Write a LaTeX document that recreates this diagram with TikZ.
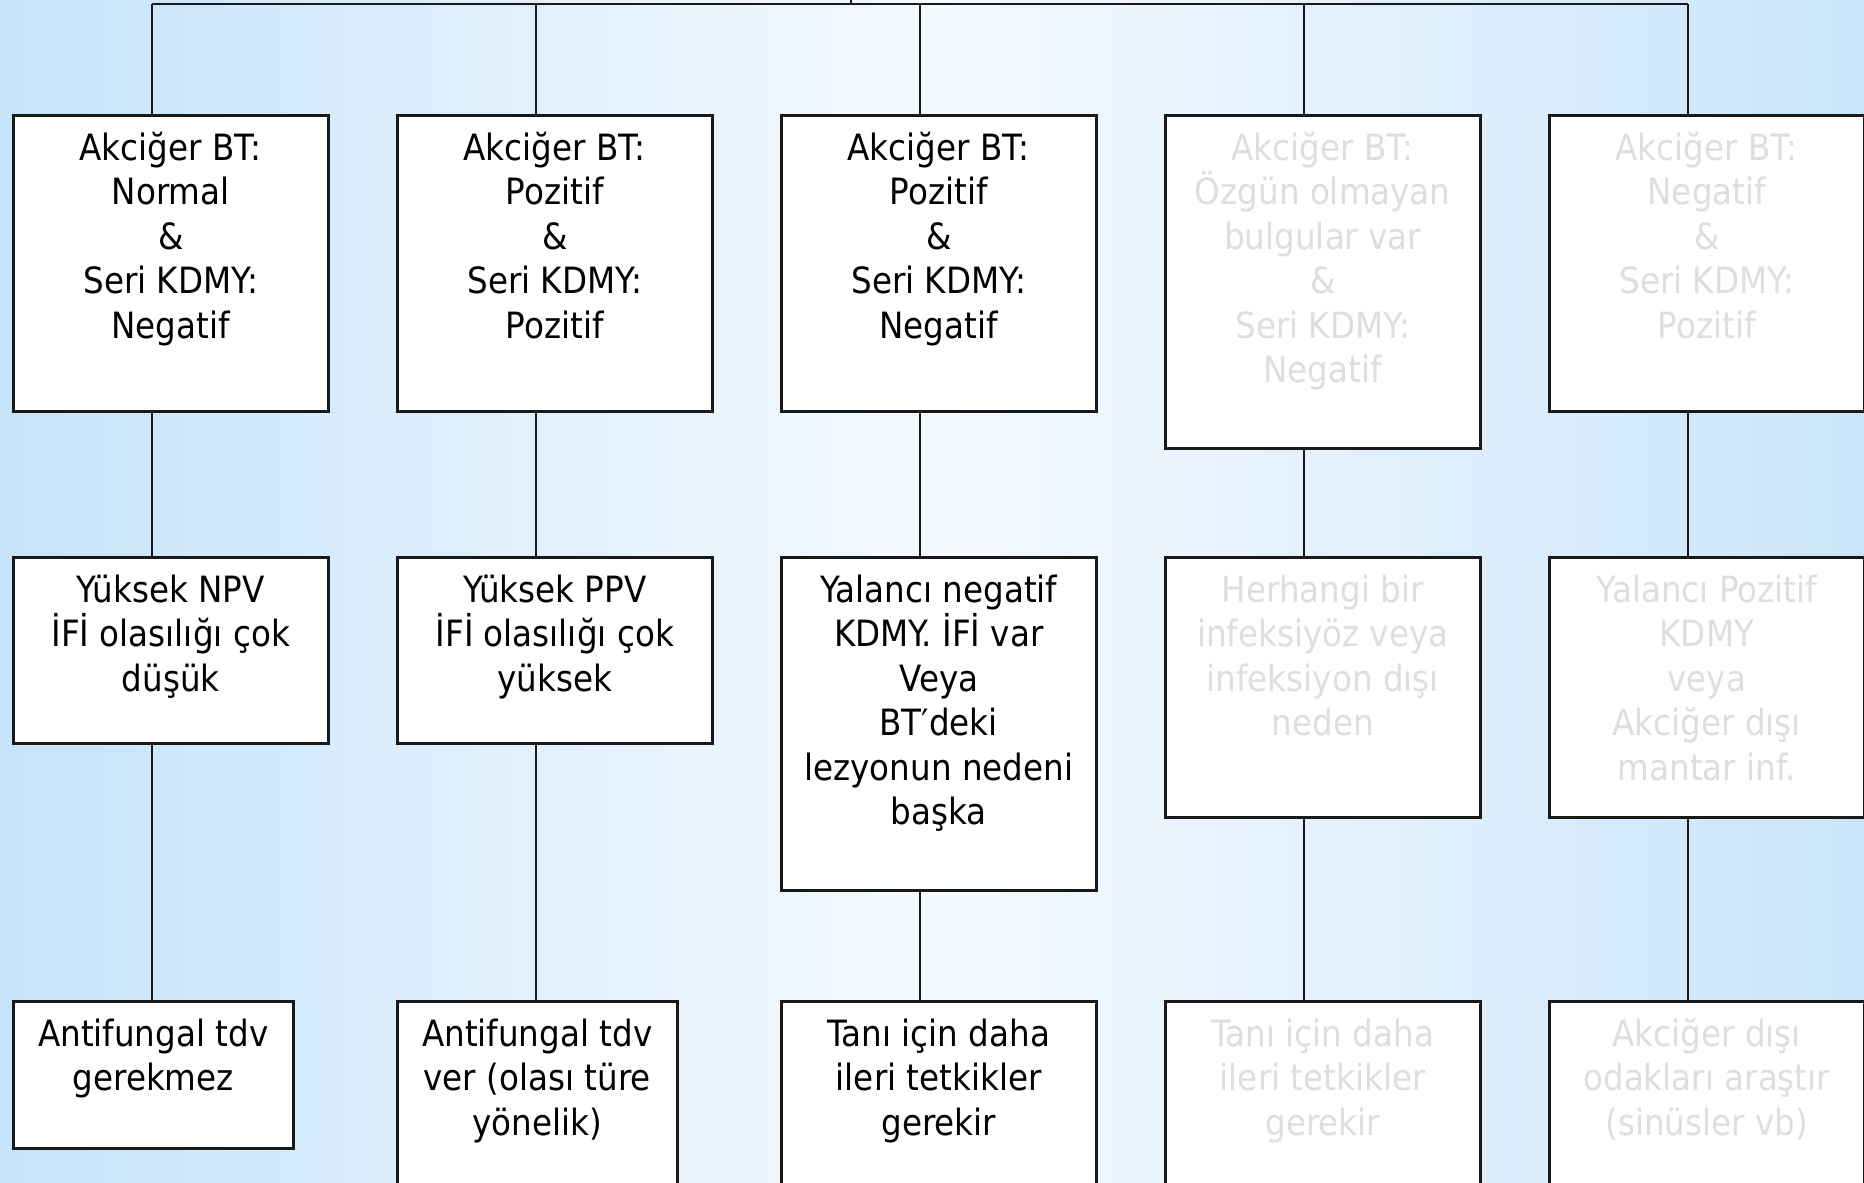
\documentclass[tikz,border=0pt]{standalone}
\usepackage{fontspec}
\setmainfont{DejaVu Sans}[FakeStretch=0.9]
\usetikzlibrary{calc}

\definecolor{bgleft}{RGB}{198,227,249}
\definecolor{bgmid}{RGB}{246,250,255}
\definecolor{bgright}{RGB}{202,229,250}
\definecolor{linec}{RGB}{25,25,25}
\definecolor{fadetxt}{RGB}{222,222,222}

% box text: height, width, lines
\newcommand{\boxtxt}[3]{\parbox[t][#1][t]{#2}{\centering\fontsize{10.3pt}{12.66pt}\selectfont\rule{0pt}{4.5mm}#3}}

\begin{document}
\begin{tikzpicture}[x=0.1mm,y=-0.1mm,
    kutu/.style={draw=linec,line width=0.25mm,fill=white,inner sep=0pt,anchor=north west},
    soluk/.style={kutu,text=fadetxt},
    hat/.style={draw=linec,line width=0.2mm}]
\useasboundingbox (0,0) rectangle (1864,1182);
\clip (0,0) rectangle (1864,1182);
\shade[left color=bgleft,right color=bgright,middle color=bgmid] (0,0) rectangle (1864,1182);

% first row
\node[kutu] (t1) at (12,114) {\boxtxt{29.6mm}{31.5mm}{Akciğer BT:\\Normal\\\&\\Seri KDMY:\\Negatif}};
\node[kutu] (t2) at (396,114) {\boxtxt{29.6mm}{31.5mm}{Akciğer BT:\\Pozitif\\\&\\Seri KDMY:\\Pozitif}};
\node[kutu] (t3) at (780,114) {\boxtxt{29.6mm}{31.5mm}{Akciğer BT:\\Pozitif\\\&\\Seri KDMY:\\Negatif}};
\node[soluk] (t4) at (1164,114) {\boxtxt{33.3mm}{31.5mm}{Akciğer BT:\\Özgün olmayan\\bulgular var\\\&\\Seri KDMY:\\Negatif}};
\node[soluk] (t5) at (1548,114) {\boxtxt{29.6mm}{31.5mm}{Akciğer BT:\\Negatif\\\&\\Seri KDMY:\\Pozitif}};

% second row
\node[kutu] (m1) at (12,556) {\boxtxt{18.6mm}{31.5mm}{Yüksek NPV\\İFİ olasılığı çok\\düşük}};
\node[kutu] (m2) at (396,556) {\boxtxt{18.6mm}{31.5mm}{Yüksek PPV\\İFİ olasılığı çok\\yüksek}};
\node[kutu] (m3) at (780,556) {\boxtxt{33.3mm}{31.5mm}{Yalancı negatif\\KDMY. İFİ var\\Veya\\BT′deki\\lezyonun nedeni\\başka}};
\node[soluk] (m4) at (1164,556) {\boxtxt{26mm}{31.5mm}{Herhangi bir\\infeksiyöz veya\\infeksiyon dışı\\neden}};
\node[soluk] (m5) at (1548,556) {\boxtxt{26mm}{31.5mm}{Yalancı Pozitif\\KDMY\\veya\\Akciğer dışı\\mantar inf.}};

% third row
\node[kutu] (b1) at (12,1000) {\boxtxt{14.7mm}{28mm}{Antifungal tdv\\gerekmez}};
\node[kutu] (b2) at (396,1000) {\boxtxt{25mm}{28mm}{Antifungal tdv\\ver (olası türe\\yönelik)}};
\node[kutu] (b3) at (780,1000) {\boxtxt{25mm}{31.5mm}{Tanı için daha\\ileri tetkikler\\gerekir}};
\node[soluk] (b4) at (1164,1000) {\boxtxt{25mm}{31.5mm}{Tanı için daha\\ileri tetkikler\\gerekir}};
\node[soluk] (b5) at (1548,1000) {\boxtxt{25mm}{31.5mm}{Akciğer dışı\\odakları araştır\\(sinüsler vb)}};

\coordinate (kok) at (851,4);
\foreach \i in {1,...,5}{
  \draw[hat] ([xshift=14mm]t\i.north west) -- ([xshift=14mm]t\i.north west |- kok);
  \draw[hat] ([xshift=14mm]t\i.south west) -- ([xshift=14mm]m\i.north west);
  \draw[hat] ([xshift=14mm]m\i.south west) -- ([xshift=14mm]b\i.north west);
}
\draw[hat] ([xshift=14mm]t1.north west |- kok) -- ([xshift=14mm]t5.north west |- kok);
\draw[hat] (kok) -- ++(0,-10);
\end{tikzpicture}
\end{document}
